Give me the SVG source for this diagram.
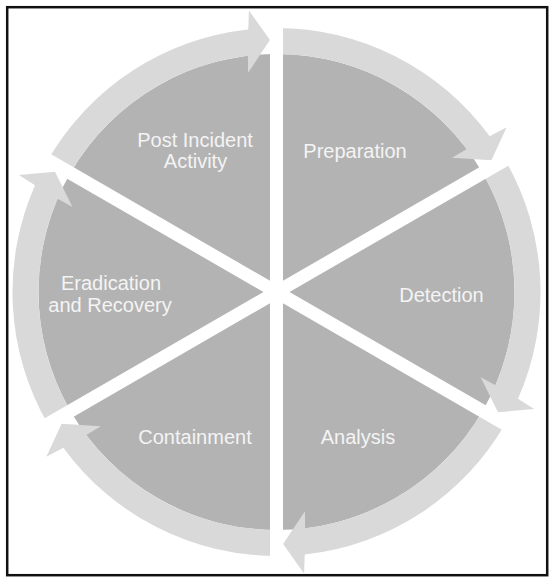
<svg xmlns="http://www.w3.org/2000/svg" xmlns:xlink="http://www.w3.org/1999/xlink" width="553" height="582" viewBox="0 0 553 582">
<style>
.wedge{fill:#b3b3b3}
.band{fill:#d9d9d9}
.lbl{font-family:"Liberation Sans",Arial,sans-serif;font-size:20px;fill:#f4f4f4;text-anchor:middle}
.gap{stroke:#ffffff;stroke-width:13;fill:none}
</style>
<defs>
<path id="wedge" d="M276.5,292 L276.5,54 A238,238 0 0,1 482.6,173 Z"/>
<path id="band" d="M276.5,28 A264,264 0 0,1 489.7,136.3 L506.6,127.3 L491.4,160.3 L452.1,157.8 L466.8,149.1 A238,238 0 0,0 276.5,54 Z"/>
</defs>
<rect x="0" y="0" width="553" height="582" fill="#ffffff"/>
<rect x="7.2" y="7.2" width="540" height="568" fill="none" stroke="#111111" stroke-width="2.5"/>
<g id="preparation">
<use xlink:href="#wedge" class="wedge"/>
<use xlink:href="#band" class="band"/>
<text class="lbl" x="355" y="158">Preparation</text>
</g>
<g id="detection">
<use xlink:href="#wedge" class="wedge" transform="rotate(60 276.5 292)"/>
<use xlink:href="#band" class="band" transform="rotate(60 276.5 292)"/>
<text class="lbl" x="441.5" y="302">Detection</text>
</g>
<g id="analysis">
<use xlink:href="#wedge" class="wedge" transform="rotate(120 276.5 292)"/>
<use xlink:href="#band" class="band" transform="rotate(120 276.5 292)"/>
<text class="lbl" x="358" y="444">Analysis</text>
</g>
<g id="containment">
<use xlink:href="#wedge" class="wedge" transform="rotate(180 276.5 292)"/>
<use xlink:href="#band" class="band" transform="rotate(180 276.5 292)"/>
<text class="lbl" x="195" y="444">Containment</text>
</g>
<g id="eradication">
<use xlink:href="#wedge" class="wedge" transform="rotate(240 276.5 292)"/>
<use xlink:href="#band" class="band" transform="rotate(240 276.5 292)"/>
<text class="lbl" x="111" y="290">Eradication</text>
<text class="lbl" x="110" y="311.5">and Recovery</text>
</g>
<g id="post-incident">
<use xlink:href="#wedge" class="wedge" transform="rotate(300 276.5 292)"/>
<use xlink:href="#band" class="band" transform="rotate(300 276.5 292)"/>
<text class="lbl" x="195" y="147">Post Incident</text>
<text class="lbl" x="195.5" y="167.5">Activity</text>
</g>
<g id="connectors">
<line class="gap" x1="276.5" y1="22" x2="276.5" y2="562"/>
<line class="gap" x1="42.7" y1="427" x2="510.3" y2="157"/>
<line class="gap" x1="42.7" y1="157" x2="510.3" y2="427"/>
</g>
</svg>
